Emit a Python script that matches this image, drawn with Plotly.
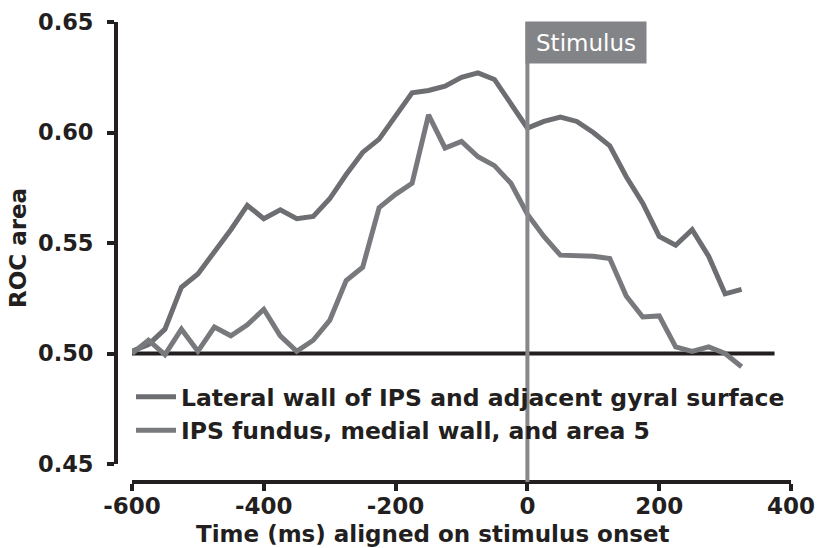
import plotly.graph_objects as go

# ---- data ----
time_ms = [-600, -575, -550, -525, -500, -475, -450, -425, -400, -375, -350, -325,
           -300, -275, -250, -225, -200, -175, -150, -125, -100, -75, -50, -25,
           0, 25, 50, 75, 100, 125, 150, 175, 200, 225, 250, 275, 300, 325]

lateral_wall = [0.501, 0.504, 0.511, 0.530, 0.536, 0.546, 0.556, 0.567, 0.561, 0.565,
                0.561, 0.562, 0.570, 0.581, 0.591, 0.597, 0.608, 0.618, 0.619, 0.621,
                0.625, 0.627, 0.624, 0.613, 0.602, 0.605, 0.607, 0.605, 0.600, 0.594,
                0.580, 0.568, 0.553, 0.549, 0.556, 0.544, 0.527, 0.529]

ips_fundus = [0.500, 0.506, 0.4995, 0.511, 0.501, 0.512, 0.508, 0.513, 0.520, 0.508,
              0.501, 0.506, 0.515, 0.533, 0.539, 0.566, 0.572, 0.577, 0.608, 0.593,
              0.596, 0.589, 0.585, 0.577, 0.563, 0.553, 0.5445, 0.5445, 0.544, 0.543,
              0.526, 0.5165, 0.517, 0.503, 0.501, 0.503, 0.500, 0.494]

series_names = ["Lateral wall of IPS and adjacent gyral surface",
                "IPS fundus, medial wall, and area 5"]

x_ticks = [-600, -400, -200, 0, 200, 400]
y_ticks = [0.45, 0.50, 0.55, 0.60, 0.65]
y_tick_labels = ["0.45", "0.50", "0.55", "0.60", "0.65"]

chance_level = 0.5
chance_end = 375
stimulus_time = 0

# ---- styles ----
DARK = "#231f20"
FONT = "DejaVu Sans"
W, H = 817, 548
ML, MR, MT, MB = 116, 26, 22, 66
PW = W - ML - MR
PH = H - MT - MB

fig = go.Figure()
fig.add_trace(go.Scatter(x=time_ms, y=lateral_wall, mode="lines", name=series_names[0],
                         line=dict(color="#6d6e71", width=5)))
fig.add_trace(go.Scatter(x=time_ms, y=ips_fundus, mode="lines", name=series_names[1],
                         line=dict(color="#78797c", width=5)))

# chance line
fig.add_shape(type="line", xref="x", yref="y", x0=time_ms[0], x1=chance_end,
              y0=chance_level, y1=chance_level, line=dict(color=DARK, width=4), layer="below")
# stimulus line
fig.add_shape(type="line", xref="x", yref="paper", x0=stimulus_time, x1=stimulus_time,
              y0=0, y1=1, line=dict(color="#87888b", width=4), layer="above")

fig.add_annotation(text="Stimulus", xref="x", yref="paper", x=stimulus_time, y=1,
                   xanchor="left", yanchor="top", showarrow=False, xshift=-2, yshift=1,
                   bgcolor="#838487", width=118, height=39, align="center",
                   font=dict(family=FONT, size=23, color="white"))

# axis titles as annotations
fig.add_annotation(text="Time (ms) aligned on stimulus onset", xref="paper", yref="paper",
                   x=(433 - ML) / PW, y=(482 - 548) / PH, xanchor="center", yanchor="bottom",
                   yshift=-1,
                   showarrow=False, font=dict(family=FONT, size=23, color=DARK, weight="bold"))
fig.add_annotation(text="ROC area", xref="paper", yref="paper", textangle=-90,
                   x=(18 - ML) / PW, y=(482 - 248) / PH, xanchor="center", yanchor="middle",
                   showarrow=False, font=dict(family=FONT, size=23, color=DARK, weight="bold"))

fig.update_layout(
    width=W, height=H,
    margin=dict(l=ML, r=MR, t=MT, b=MB, pad=0, autoexpand=False),
    paper_bgcolor="white", plot_bgcolor="white",
    showlegend=True,
    legend=dict(x=(131 - ML) / PW, y=(482 - 375) / PH, xanchor="left", yanchor="top",
                bgcolor="rgba(0,0,0,0)", tracegroupgap=0, itemwidth=40,
                font=dict(family=FONT, size=23.5, color=DARK, weight="bold")),
    xaxis=dict(domain=[(132 - ML) / PW, 1], range=[-600, 400], anchor="free", position=0,
               automargin=False,
               showgrid=False, zeroline=False, showline=True, linecolor=DARK, linewidth=4,
               ticks="outside", ticklen=7, tickwidth=4, tickcolor=DARK,
               tickvals=x_ticks, ticktext=[str(v) for v in x_ticks], ticklabelstandoff=-5,
               tickfont=dict(family=FONT, size=23, color=DARK, weight="bold")),
    yaxis=dict(domain=[(482 - 464) / PH, 1], range=[0.45, 0.65], anchor="free", position=0,
               automargin=False,
               showgrid=False, zeroline=False, showline=True, linecolor=DARK, linewidth=4,
               ticks="outside", ticklen=7, tickwidth=4, tickcolor=DARK,
               tickvals=y_ticks, ticktext=y_tick_labels, ticklabelstandoff=9,
               tickfont=dict(family=FONT, size=22.5, color=DARK, weight="bold")),
)

fig.write_html("out.html")
